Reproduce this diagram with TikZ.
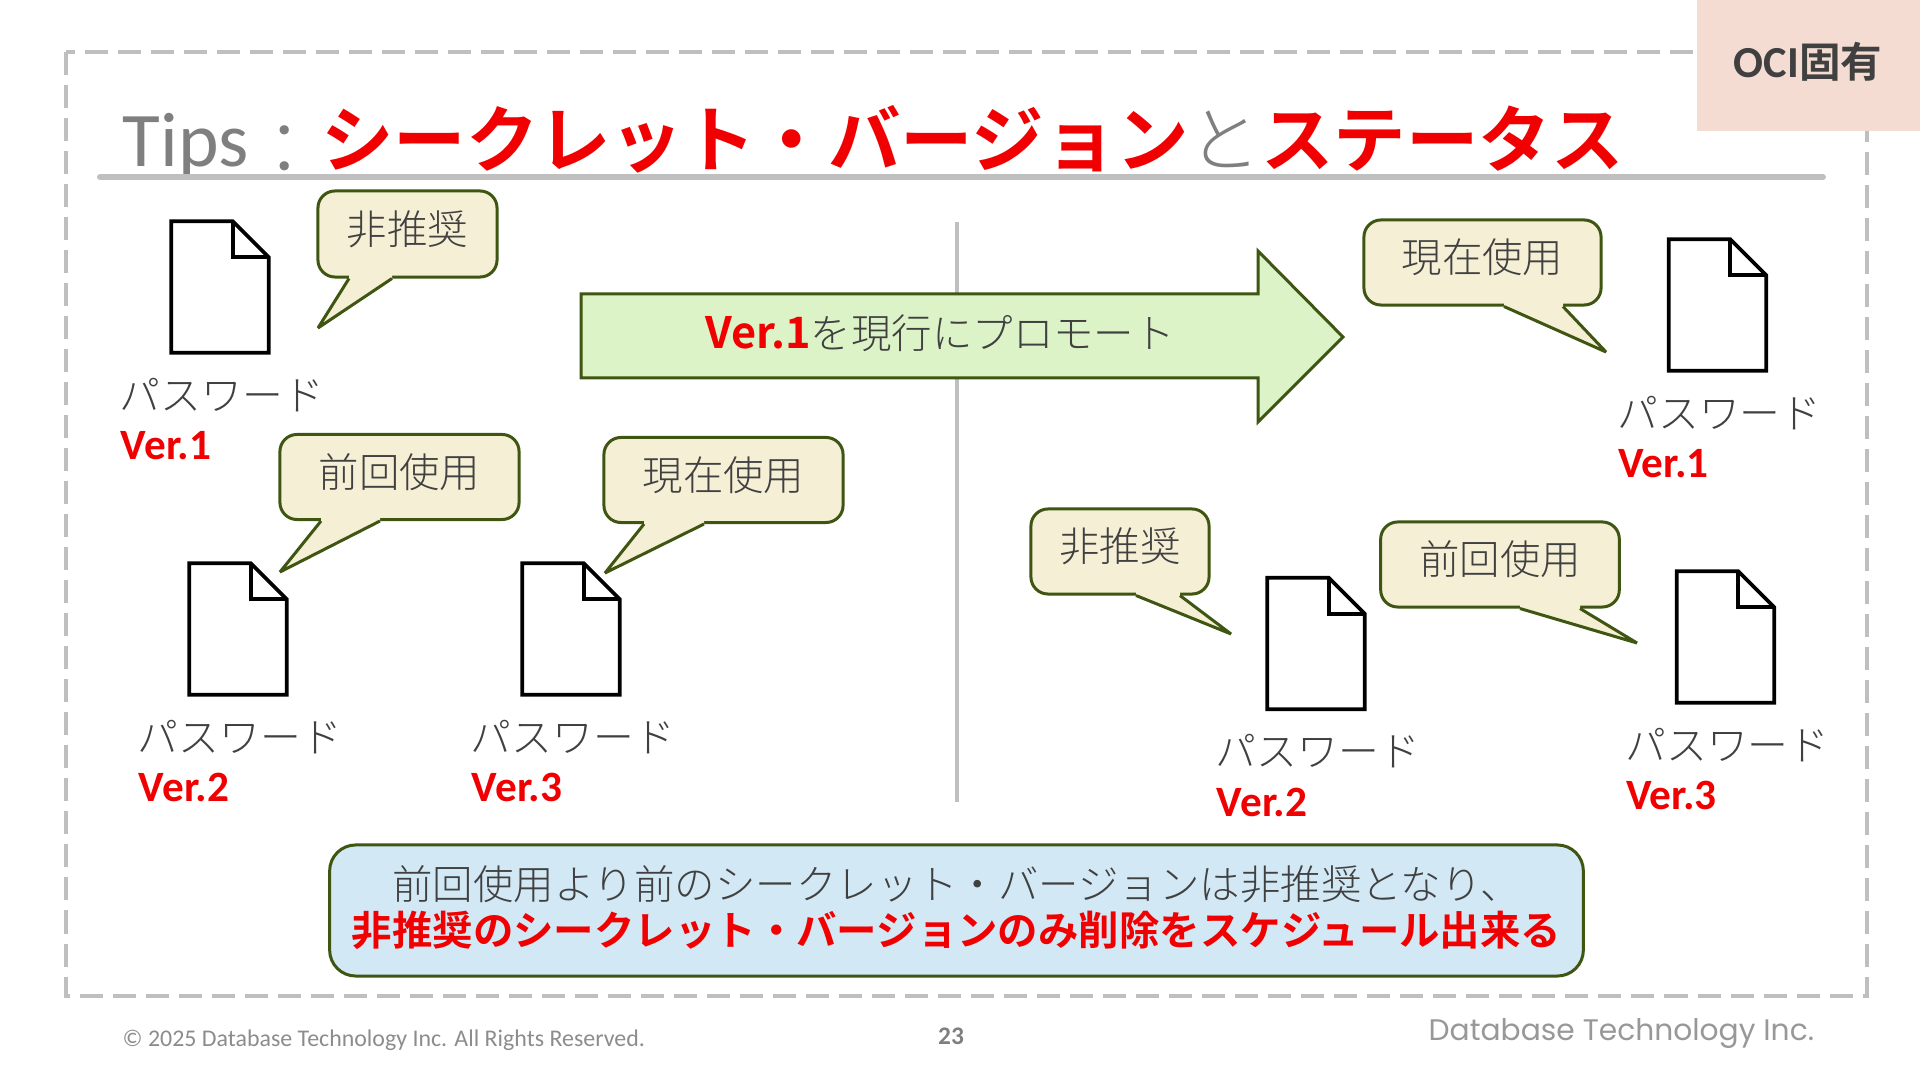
\documentclass[tikz,border=0pt]{standalone}
\usepackage{fontspec}
\setmainfont{Carlito}
\newfontfamily\jp[BoldFont={Noto Sans CJK JP Bold}]{Noto Sans CJK JP Light}
\newfontfamily\logofont{Poppins}
\usepackage{tikz}
\usetikzlibrary{positioning,calc}
\usepackage{xcolor}
\definecolor{vered}{HTML}{F00000}
\definecolor{bodygray}{HTML}{404040}
\definecolor{titlegray}{HTML}{7F7F7F}
\definecolor{rulegray}{HTML}{BFBFBF}
\definecolor{edgeolive}{HTML}{3F5512}
\definecolor{bubblefill}{HTML}{F5EFD5}
\definecolor{arrowfill}{HTML}{DCF3C8}
\definecolor{notefill}{HTML}{D2E8F5}
\definecolor{ocifill}{HTML}{F5DCD2}
\newcommand{\vertext}[1]{{\fontsize{12.3}{14}\selectfont\bfseries\color{vered}#1}}
\newcommand{\docicon}[3]{%
  \node[docbox] (#1) at (#2) {};
  \draw[docline] (#1.north west) -- ([xshift=-0.36cm]#1.north east) -- ([yshift=-0.36cm]#1.north east) -- (#1.south east) -- (#1.south west) -- cycle;
  \draw[docline] ([xshift=-0.36cm]#1.north east) |- ([yshift=-0.36cm]#1.north east);
  \node[pwlabel] (#1pw) at ([xshift=-0.52cm,yshift=-0.42cm]#1.south west) {パスワード};
  \node[verlabel] (#1ver) at ([xshift=-0.51cm,yshift=-1.07cm]#1.south west) {\vertext{#3}};
}
\newcommand{\bubbletail}[4]{%
  \coordinate (#1a) at (#1.south -| #2,0);
  \coordinate (#1b) at (#1.south -| #3,0);
  \fill[bubblefill] ([yshift=2pt]#1a) -- (#1a) -- (#4) -- (#1b) -- ([yshift=2pt]#1b) -- cycle;
  \draw[tailline] (#1a) -- (#4) -- (#1b);
}

\begin{document}
\begin{tikzpicture}[
    x=0.01cm, y=-0.01cm,
    frameline/.style={draw=rulegray, line width=0.035cm, dash pattern=on 0.23cm off 0.1cm},
    bubble/.style={draw=edgeolive, fill=bubblefill, line width=0.03cm, rounded corners=0.17cm, inner sep=0pt, minimum height=0.85cm, text depth=0.13cm, text=bodygray, font=\jp\fontsize{11.5}{13}\selectfont},
    tailline/.style={draw=edgeolive, line width=0.03cm, miter limit=4},
    docbox/.style={minimum width=0.96cm, minimum height=1.30cm, inner sep=0pt},
    docline/.style={draw=black, line width=0.038cm},
    pwlabel/.style={anchor=west, inner sep=0pt, text=bodygray, font=\jp\fontsize{11.6}{13}\selectfont},
    verlabel/.style={anchor=base west, inner sep=0pt},
]
\useasboundingbox (0,0) rectangle (1920,1080);

\draw[frameline] (66,52) rectangle (1867,996);
\node[fill=ocifill, minimum width=2.23cm, minimum height=1.31cm, inner sep=0pt] (ocibox) at (1808.5,65.5) {};
\node[inner sep=0pt, text=bodygray, font=\fontsize{12.6}{14}\selectfont\bfseries] (ocitag) at (1808,62) {OCI{\jp\fontsize{11.8}{14}\selectfont 固有}};

\node[anchor=base west, inner sep=0pt, text=titlegray, font=\fontsize{22}{24}\selectfont] (title) at (122,167) {Tips{\jp\fontsize{20.6}{24}\selectfont \raisebox{-2.5pt}{：}{\bfseries\color{vered}シークレット・バージョン}と{\bfseries\color{vered}ステータス}}};
\coordinate (ruleL) at (100,177);
\coordinate (ruleR) at (1823,177);
\draw[rulegray, line width=0.06cm, line cap=round] (ruleL) -- (ruleR);

\coordinate (splitT) at (957,222);
\coordinate (splitB) at (957,802);
\draw[rulegray, line width=0.04cm] (splitT) -- (splitB);

\draw[draw=edgeolive, fill=arrowfill, line width=0.03cm, miter limit=4] (581,294) -- (1258,294) -- (1258,251) -- (1343,337) -- (1258,422) -- (1258,378) -- (581,378) -- cycle;
\node[inner sep=0pt, text=bodygray, font=\jp\fontsize{11.5}{13}\selectfont] (promote) at (940,333) {\vertext{Ver.1}を現行にプロモート};

\docicon{docA}{220,287}{Ver.1}
\docicon{docB}{238,629}{Ver.2}
\docicon{docC}{571,629}{Ver.3}
\docicon{docD}{1717.5,305}{Ver.1}
\docicon{docE}{1316,643.5}{Ver.2}
\docicon{docF}{1725.5,637}{Ver.3}

\node[bubble, minimum width=1.79cm, minimum height=0.86cm] (depA) at (407.5,234) {非推奨};
\bubbletail{depA}{349}{392}{318,328}
\node[bubble, minimum width=2.39cm] (prevA) at (399.5,477) {前回使用};
\bubbletail{prevA}{321}{380}{280,572}
\node[bubble, minimum width=2.39cm] (curA) at (723.5,480) {現在使用};
\bubbletail{curA}{644}{704}{605,573}
\node[bubble, minimum width=2.37cm] (curB) at (1482.5,262.5) {現在使用};
\bubbletail{curB}{1504}{1563}{1606,352}
\node[bubble, minimum width=1.78cm] (depB) at (1120,551.5) {非推奨};
\bubbletail{depB}{1136}{1180}{1231,634}
\node[bubble, minimum width=2.385cm] (prevB) at (1500,564.5) {前回使用};
\bubbletail{prevB}{1520}{1580}{1637,643}

\node[draw=edgeolive, fill=notefill, line width=0.03cm, rounded corners=0.26cm, minimum width=12.53cm, minimum height=1.31cm, inner sep=0pt] (note) at (956.5,910.5) {};
\node[inner sep=0pt, align=center, text=bodygray, font=\jp\fontsize{11.5}{13.3}\selectfont] (notetext) at (956.5,907.5) {前回使用より前のシークレット・バージョンは非推奨となり、\\{\bfseries\color{vered}非推奨のシークレット・バージョンのみ削除をスケジュール出来る}};

\node[anchor=west, inner sep=0pt, text=titlegray!90, font=\fontsize{6.8}{9}\selectfont] (copyright) at (122,1040) {© 2025 Database Technology Inc. All Rights Reserved.};
\node[inner sep=0pt, text=titlegray, font=\fontsize{7.2}{9}\selectfont\bfseries] (pageno) at (951,1036) {23};
\node[anchor=west, inner sep=0pt, text=titlegray!80, font=\logofont\fontsize{8.45}{10}\selectfont] (logo) at (1428,1033.5) {Database Technology Inc.};
\end{tikzpicture}
\end{document}
